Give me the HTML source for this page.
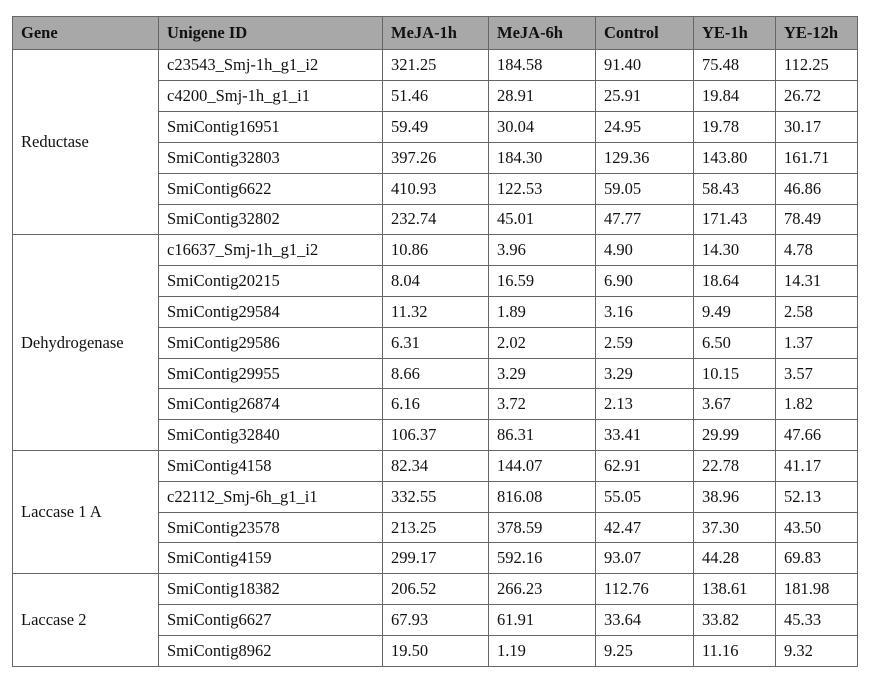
<!DOCTYPE html>
<html><head><style>
body{margin:0;background:#fff;width:876px;height:682px;overflow:hidden;}
table{position:absolute;left:12px;top:16px;width:845px;height:651px;border-collapse:collapse;table-layout:fixed;font-family:"Liberation Serif",serif;font-size:16.5px;color:#111;}
td,th{border:1px solid #666;padding:0 0 0 8px;text-align:left;white-space:nowrap;}
th{background:#a8a8a8;font-weight:bold;height:32px;}
td{height:29.4px;}
</style></head><body>
<table>
<colgroup><col style="width:146px"><col style="width:224px"><col style="width:106px"><col style="width:107px"><col style="width:98px"><col style="width:82px"><col style="width:82px"></colgroup>
<tr><th>Gene</th><th>Unigene ID</th><th>MeJA-1h</th><th>MeJA-6h</th><th>Control</th><th>YE-1h</th><th>YE-12h</th></tr>
<tr><td rowspan="6">Reductase</td><td>c23543_Smj-1h_g1_i2</td><td>321.25</td><td>184.58</td><td>91.40</td><td>75.48</td><td>112.25</td></tr>
<tr><td>c4200_Smj-1h_g1_i1</td><td>51.46</td><td>28.91</td><td>25.91</td><td>19.84</td><td>26.72</td></tr>
<tr><td>SmiContig16951</td><td>59.49</td><td>30.04</td><td>24.95</td><td>19.78</td><td>30.17</td></tr>
<tr><td>SmiContig32803</td><td>397.26</td><td>184.30</td><td>129.36</td><td>143.80</td><td>161.71</td></tr>
<tr><td>SmiContig6622</td><td>410.93</td><td>122.53</td><td>59.05</td><td>58.43</td><td>46.86</td></tr>
<tr><td>SmiContig32802</td><td>232.74</td><td>45.01</td><td>47.77</td><td>171.43</td><td>78.49</td></tr>
<tr><td rowspan="7">Dehydrogenase</td><td>c16637_Smj-1h_g1_i2</td><td>10.86</td><td>3.96</td><td>4.90</td><td>14.30</td><td>4.78</td></tr>
<tr><td>SmiContig20215</td><td>8.04</td><td>16.59</td><td>6.90</td><td>18.64</td><td>14.31</td></tr>
<tr><td>SmiContig29584</td><td>11.32</td><td>1.89</td><td>3.16</td><td>9.49</td><td>2.58</td></tr>
<tr><td>SmiContig29586</td><td>6.31</td><td>2.02</td><td>2.59</td><td>6.50</td><td>1.37</td></tr>
<tr><td>SmiContig29955</td><td>8.66</td><td>3.29</td><td>3.29</td><td>10.15</td><td>3.57</td></tr>
<tr><td>SmiContig26874</td><td>6.16</td><td>3.72</td><td>2.13</td><td>3.67</td><td>1.82</td></tr>
<tr><td>SmiContig32840</td><td>106.37</td><td>86.31</td><td>33.41</td><td>29.99</td><td>47.66</td></tr>
<tr><td rowspan="4">Laccase 1 A</td><td>SmiContig4158</td><td>82.34</td><td>144.07</td><td>62.91</td><td>22.78</td><td>41.17</td></tr>
<tr><td>c22112_Smj-6h_g1_i1</td><td>332.55</td><td>816.08</td><td>55.05</td><td>38.96</td><td>52.13</td></tr>
<tr><td>SmiContig23578</td><td>213.25</td><td>378.59</td><td>42.47</td><td>37.30</td><td>43.50</td></tr>
<tr><td>SmiContig4159</td><td>299.17</td><td>592.16</td><td>93.07</td><td>44.28</td><td>69.83</td></tr>
<tr><td rowspan="3">Laccase 2</td><td>SmiContig18382</td><td>206.52</td><td>266.23</td><td>112.76</td><td>138.61</td><td>181.98</td></tr>
<tr><td>SmiContig6627</td><td>67.93</td><td>61.91</td><td>33.64</td><td>33.82</td><td>45.33</td></tr>
<tr><td>SmiContig8962</td><td>19.50</td><td>1.19</td><td>9.25</td><td>11.16</td><td>9.32</td></tr>
</table>
</body></html>
